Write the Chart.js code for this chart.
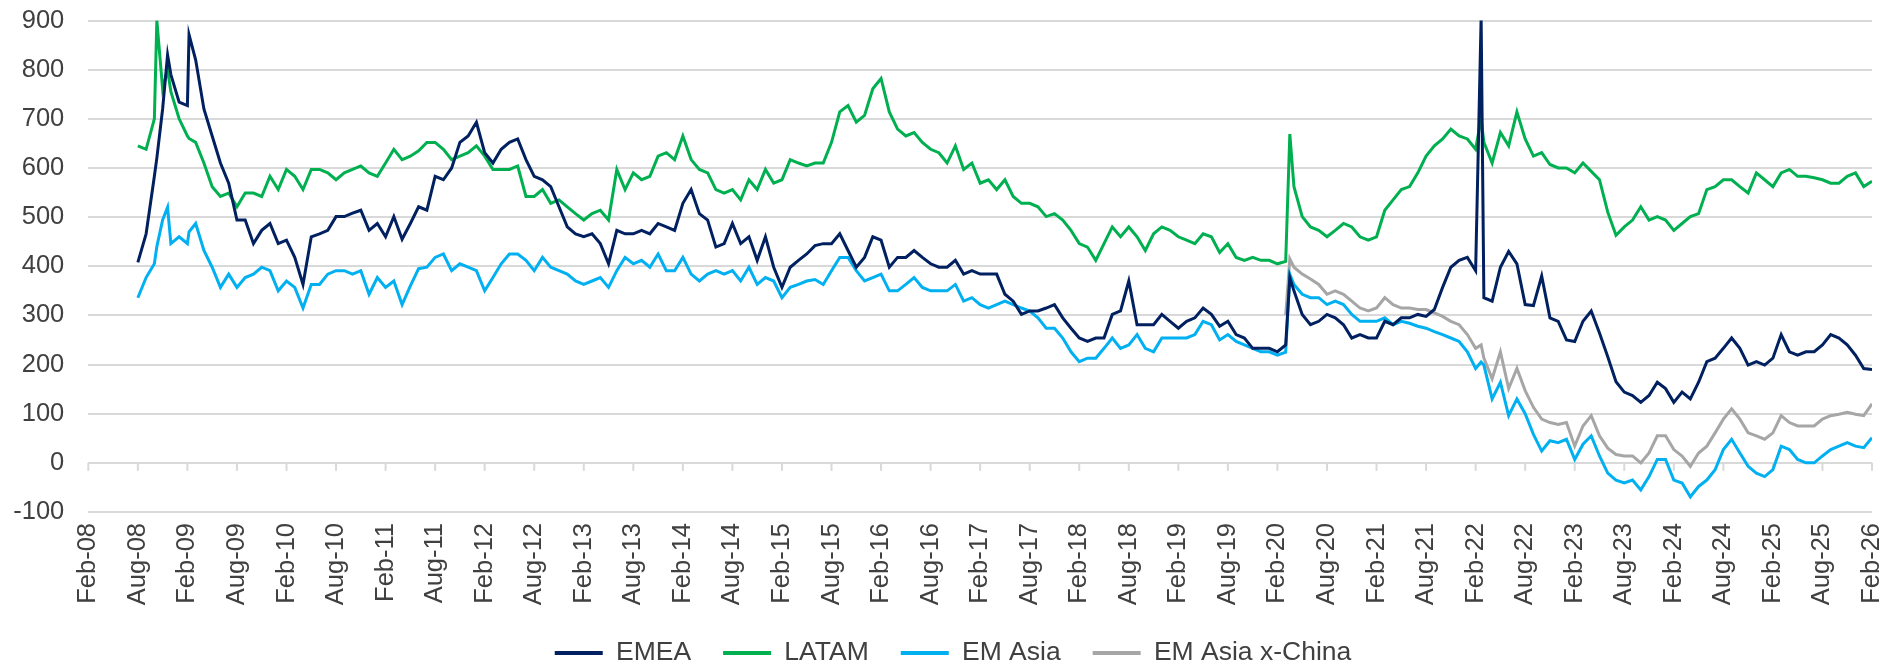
<!DOCTYPE html>
<html lang="en">

<head>
    <meta charset="UTF-8">
    <title>EM spreads by region</title>
    <style>
        body {
            margin: 0;
            background-color: #fff;
        }

        .container {
            width: 1887px;
            height: 666px;
        }
    </style>
    <script src="https://cdn.jsdelivr.net/npm/chart.js"></script>
</head>

<body>
    <div class="container">
        <canvas id="myChart" width="1887" height="666"></canvas>
    </div>
    <script>
        // monthly readings, plus a few extra dates where the lines spike
        const dates = [
            '2008-08', '2008-09', '2008-10', '2008-10-10', '2008-11', '2008-11-19', '2008-12',
            '2009-01', '2009-02', '2009-02-07', '2009-03', '2009-04', '2009-05', '2009-06', '2009-07', '2009-08', '2009-09', '2009-10', '2009-11', '2009-12',
            '2010-01', '2010-02', '2010-03', '2010-04', '2010-05', '2010-06', '2010-07', '2010-08', '2010-09', '2010-10', '2010-11', '2010-12',
            '2011-01', '2011-02', '2011-03', '2011-04', '2011-05', '2011-06', '2011-07', '2011-08', '2011-09', '2011-10', '2011-11', '2011-12',
            '2012-01', '2012-02', '2012-03', '2012-04', '2012-05', '2012-06', '2012-07', '2012-08', '2012-09', '2012-10', '2012-11', '2012-12',
            '2013-01', '2013-02', '2013-03', '2013-04', '2013-05', '2013-06', '2013-07', '2013-08', '2013-09', '2013-10', '2013-11', '2013-12',
            '2014-01', '2014-02', '2014-03', '2014-04', '2014-05', '2014-06', '2014-07', '2014-08', '2014-09', '2014-10', '2014-11', '2014-12',
            '2015-01', '2015-02', '2015-03', '2015-04', '2015-05', '2015-06', '2015-07', '2015-08', '2015-09', '2015-10', '2015-11', '2015-12',
            '2016-01', '2016-02', '2016-03', '2016-04', '2016-05', '2016-06', '2016-07', '2016-08', '2016-09', '2016-10', '2016-11', '2016-12',
            '2017-01', '2017-02', '2017-03', '2017-04', '2017-05', '2017-06', '2017-07', '2017-08', '2017-09', '2017-10', '2017-11', '2017-12',
            '2018-01', '2018-02', '2018-03', '2018-04', '2018-05', '2018-06', '2018-07', '2018-08', '2018-09', '2018-10', '2018-11', '2018-12',
            '2019-01', '2019-02', '2019-03', '2019-04', '2019-05', '2019-06', '2019-07', '2019-08', '2019-09', '2019-10', '2019-11', '2019-12',
            '2020-01', '2020-02', '2020-03', '2020-03-16', '2020-04', '2020-05', '2020-06', '2020-07', '2020-08', '2020-09', '2020-10', '2020-11', '2020-12',
            '2021-01', '2021-02', '2021-03', '2021-04', '2021-05', '2021-06', '2021-07', '2021-08', '2021-09', '2021-10', '2021-11', '2021-12',
            '2022-01', '2022-02', '2022-02-21', '2022-03', '2022-04', '2022-05', '2022-06', '2022-07', '2022-08', '2022-09', '2022-10', '2022-11', '2022-12',
            '2023-01', '2023-02', '2023-03', '2023-04', '2023-05', '2023-06', '2023-07', '2023-08', '2023-09', '2023-10', '2023-11', '2023-12',
            '2024-01', '2024-02', '2024-03', '2024-04', '2024-05', '2024-06', '2024-07', '2024-08', '2024-09', '2024-10', '2024-11', '2024-12',
            '2025-01', '2025-02', '2025-03', '2025-04', '2025-05', '2025-06', '2025-07', '2025-08', '2025-09', '2025-10', '2025-11', '2025-12',
            '2026-01', '2026-02'
        ];

        const emea = [
            408, 466, 583, 620, 720, 830, 790,
            734, 727, 871, 820, 720, 665, 610, 569, 494, 494, 446, 473, 487,
            446, 453, 418, 363, 460, 466, 473, 501, 501, 508, 514, 473,
            487, 460, 501, 455, 487, 521, 514, 583, 576, 600, 652, 665,
            693, 631, 610, 638, 652, 659, 617, 583, 576, 562, 521, 480,
            466, 460, 466, 446, 405, 473, 466, 466, 473, 466, 487, 480,
            473, 528, 556, 507, 494, 439, 446, 487, 446, 460, 412, 460,
            398, 357, 398, 412, 425, 442, 446, 446, 466, 432, 398, 418,
            460, 453, 398, 418, 418, 432, 418, 405, 398, 398, 412, 384,
            391, 384, 384, 384, 343, 329, 302, 309, 309, 315, 322, 295,
            274, 254, 247, 254, 254, 302, 309, 370, 281, 281, 281, 302,
            288, 274, 288, 295, 315, 302, 278, 288, 261, 254, 233, 233,
            233, 226, 240, 377, 350, 302, 281, 288, 302, 295, 281, 254, 261,
            254, 254, 288, 281, 295, 295, 302, 298, 312, 357, 398, 412,
            418, 391, 905, 336, 329, 398, 430, 405, 322, 320, 380, 295, 288,
            250, 247, 288, 309, 264, 216, 165, 144, 137, 123, 137, 164,
            151, 123, 144, 130, 164, 206, 213, 233, 254, 233, 199, 206,
            199, 213, 261, 226, 219, 226, 226, 240, 261, 254, 240, 219,
            192, 190
        ];

        const latam = [
            645, 638, 700, 900, 761, 800, 755,
            700, 665, 660, 652, 610, 562, 542, 549, 521, 549, 549, 542, 583,
            556, 597, 583, 556, 597, 597, 590, 576, 590, 597, 604, 590,
            583, 610, 638, 617, 624, 635, 652, 652, 638, 617, 624, 631,
            645, 624, 597, 597, 597, 604, 542, 542, 556, 528, 535, 521,
            507, 494, 507, 514, 494, 597, 556, 590, 576, 583, 624, 631,
            617, 665, 617, 597, 590, 556, 549, 556, 535, 576, 556, 597,
            569, 576, 617, 610, 604, 610, 610, 652, 714, 727, 693, 707,
            761, 782, 714, 679, 665, 672, 652, 638, 631, 610, 645, 597,
            610, 569, 576, 556, 576, 542, 528, 528, 521, 501, 507, 494,
            473, 446, 439, 412, 446, 480, 460, 480, 460, 432, 466, 480,
            473, 460, 453, 446, 466, 460, 428, 446, 418, 412, 418, 412,
            412, 405, 410, 669, 562, 501, 480, 473, 460, 473, 487, 480, 460,
            453, 460, 514, 535, 556, 562, 590, 624, 645, 659, 679, 665,
            659, 638, 700, 652, 610, 672, 645, 714, 659, 624, 631, 607, 600,
            600, 590, 610, 593, 576, 510, 463, 480, 494, 521, 494, 501,
            494, 473, 487, 501, 507, 556, 562, 576, 576, 562, 549, 590,
            576, 562, 590, 597, 583, 583, 580, 576, 569, 569, 583, 590,
            562, 573
        ];

        const emAsia = [
            336, 377, 405, 440, 494, 520, 446,
            460, 446, 470, 487, 432, 398, 357, 384, 357, 377, 384, 398, 391,
            350, 370, 357, 315, 363, 363, 384, 391, 391, 384, 391, 343,
            377, 357, 370, 322, 360, 395, 398, 418, 425, 391, 405, 398,
            391, 350, 377, 405, 425, 425, 412, 391, 418, 398, 391, 384,
            370, 363, 370, 377, 357, 391, 418, 405, 412, 398, 425, 391,
            391, 418, 384, 370, 384, 391, 384, 391, 370, 398, 363, 377,
            370, 336, 357, 363, 370, 373, 363, 391, 418, 418, 391, 370,
            377, 384, 350, 350, 363, 377, 357, 350, 350, 350, 363, 329,
            336, 322, 315, 322, 329, 322, 315, 309, 295, 274, 274, 254,
            226, 206, 213, 213, 233, 254, 233, 240, 261, 233, 226, 254,
            254, 254, 254, 261, 288, 281, 250, 261, 247, 240, 233, 226,
            226, 219, 225, 384, 363, 343, 336, 336, 322, 329, 322, 302, 288,
            288, 288, 295, 281, 288, 284, 278, 274, 267, 261, 254, 247,
            226, 192, 205, 199, 130, 164, 96, 130, 100, 58, 24, 45, 41,
            48, 7, 38, 55, 14, -21, -35, -41, -35, -55, -28, 7,
            7, -35, -41, -69, -48, -35, -14, 27, 48, 20, -7, -21,
            -28, -14, 34, 27, 7, 0, 0, 14, 27, 34, 41, 34,
            31, 51
        ];

        // x-China series only starts in March 2020
        const exChinaStart = '2020-03';
        const emAsiaExChina = [
            300, 415, 398, 384, 374, 363, 343, 350, 343, 329, 315,
            309, 315, 336, 322, 315, 315, 312, 312, 305, 298, 288, 281,
            261, 233, 240, 213, 171, 226, 151, 192, 147, 113, 89, 82, 78,
            82, 34, 75, 96, 55, 30, 17, 14, 14, 0, 20, 55,
            55, 27, 14, -7, 20, 34, 61, 89, 110, 89, 61, 55,
            48, 61, 96, 82, 75, 75, 75, 89, 96, 99, 103, 99,
            96, 120
        ];

        const tickLabels = [
            'Feb-08', 'Aug-08', 'Feb-09', 'Aug-09', 'Feb-10', 'Aug-10', 'Feb-11', 'Aug-11',
            'Feb-12', 'Aug-12', 'Feb-13', 'Aug-13', 'Feb-14', 'Aug-14', 'Feb-15', 'Aug-15',
            'Feb-16', 'Aug-16', 'Feb-17', 'Aug-17', 'Feb-18', 'Aug-18', 'Feb-19', 'Aug-19',
            'Feb-20', 'Aug-20', 'Feb-21', 'Aug-21', 'Feb-22', 'Aug-22', 'Feb-23', 'Aug-23',
            'Feb-24', 'Aug-24', 'Feb-25', 'Aug-25', 'Feb-26'
        ];

        // months counted from Feb-08, the first tick
        function monthIndex(d) {
            const parts = d.split('-').map(Number);
            const day = parts[2] || 1;
            return (parts[0] - 2008) * 12 + (parts[1] - 2) + (day - 1) / 30;
        }

        function toPoints(values, offset) {
            return values.map((v, i) => ({ x: monthIndex(dates[i + offset]), y: v }));
        }

        // Excel-style tick marks hanging off the zero line
        const zeroTicks = {
            id: 'zeroTicks',
            beforeDatasetsDraw(chart) {
                const { ctx, scales: { x, y } } = chart;
                const y0 = y.getPixelForValue(0);
                ctx.save();
                ctx.strokeStyle = '#d9d9d9';
                ctx.lineWidth = 2;
                x.ticks.forEach(t => {
                    const px = x.getPixelForValue(t.value);
                    ctx.beginPath();
                    ctx.moveTo(px, y0);
                    ctx.lineTo(px, y0 + 8);
                    ctx.stroke();
                });
                ctx.restore();
            }
        };

        // legend sits a little right of centre in the original
        const legendNudge = {
            id: 'legendNudge',
            afterLayout(chart) {
                chart.legend.left += 17;
                chart.legend.right += 17;
            }
        };

        Chart.defaults.font.family = "'Liberation Sans', Arial, sans-serif";
        Chart.defaults.color = '#404040';

        const ctx = document.getElementById('myChart').getContext('2d');
        const myChart = new Chart(ctx, {
            type: 'line',
            data: {
                datasets: [
                    {
                        label: 'EMEA',
                        data: toPoints(emea, 0),
                        borderColor: '#002060',
                        backgroundColor: '#002060'
                    },
                    {
                        label: 'LATAM',
                        data: toPoints(latam, 0),
                        borderColor: '#00b050',
                        backgroundColor: '#00b050'
                    },
                    {
                        label: 'EM Asia',
                        data: toPoints(emAsia, 0),
                        borderColor: '#00b0f0',
                        backgroundColor: '#00b0f0'
                    },
                    {
                        label: 'EM Asia x-China',
                        data: toPoints(emAsiaExChina, dates.indexOf(exChinaStart)),
                        borderColor: '#a6a6a6',
                        backgroundColor: '#a6a6a6'
                    }
                ]
            },
            options: {
                responsive: false,
                animation: false,
                elements: {
                    line: { borderWidth: 3, tension: 0 },
                    point: { radius: 0 }
                },
                layout: {
                    padding: { left: 0, right: 15, top: 20.5, bottom: -10.25 }
                },
                scales: {
                    x: {
                        type: 'linear',
                        min: 0,
                        max: 216,
                        grid: { display: false },
                        border: { display: false },
                        afterFit: scale => {
                            scale.height = 95.75;
                            scale.paddingLeft = 0;
                            scale.paddingRight = 0;
                        },
                        ticks: {
                            stepSize: 6,
                            autoSkip: false,
                            minRotation: 90,
                            maxRotation: 90,
                            padding: 3,
                            font: { size: 25.5 },
                            callback: v => tickLabels[v / 6]
                        }
                    },
                    y: {
                        min: -100,
                        max: 900,
                        grid: { color: '#d9d9d9', lineWidth: 2, drawTicks: false },
                        border: { display: false },
                        afterFit: scale => {
                            scale.width = 88.3;
                            scale.paddingTop = 0;
                            scale.paddingBottom = 0;
                        },
                        ticks: {
                            stepSize: 100,
                            padding: 24,
                            font: { size: 25.5 }
                        }
                    }
                },
                plugins: {
                    legend: {
                        position: 'bottom',
                        labels: {
                            boxWidth: 48,
                            boxHeight: 4,
                            padding: 32,
                            font: { size: 26.5 },
                            generateLabels: chart => Chart.defaults.plugins.legend.labels.generateLabels(chart)
                                .map(item => ({ ...item, lineWidth: 0 }))
                        }
                    },
                    tooltip: { enabled: false }
                }
            },
            plugins: [zeroTicks, legendNudge]
        });
    </script>
</body>

</html>
